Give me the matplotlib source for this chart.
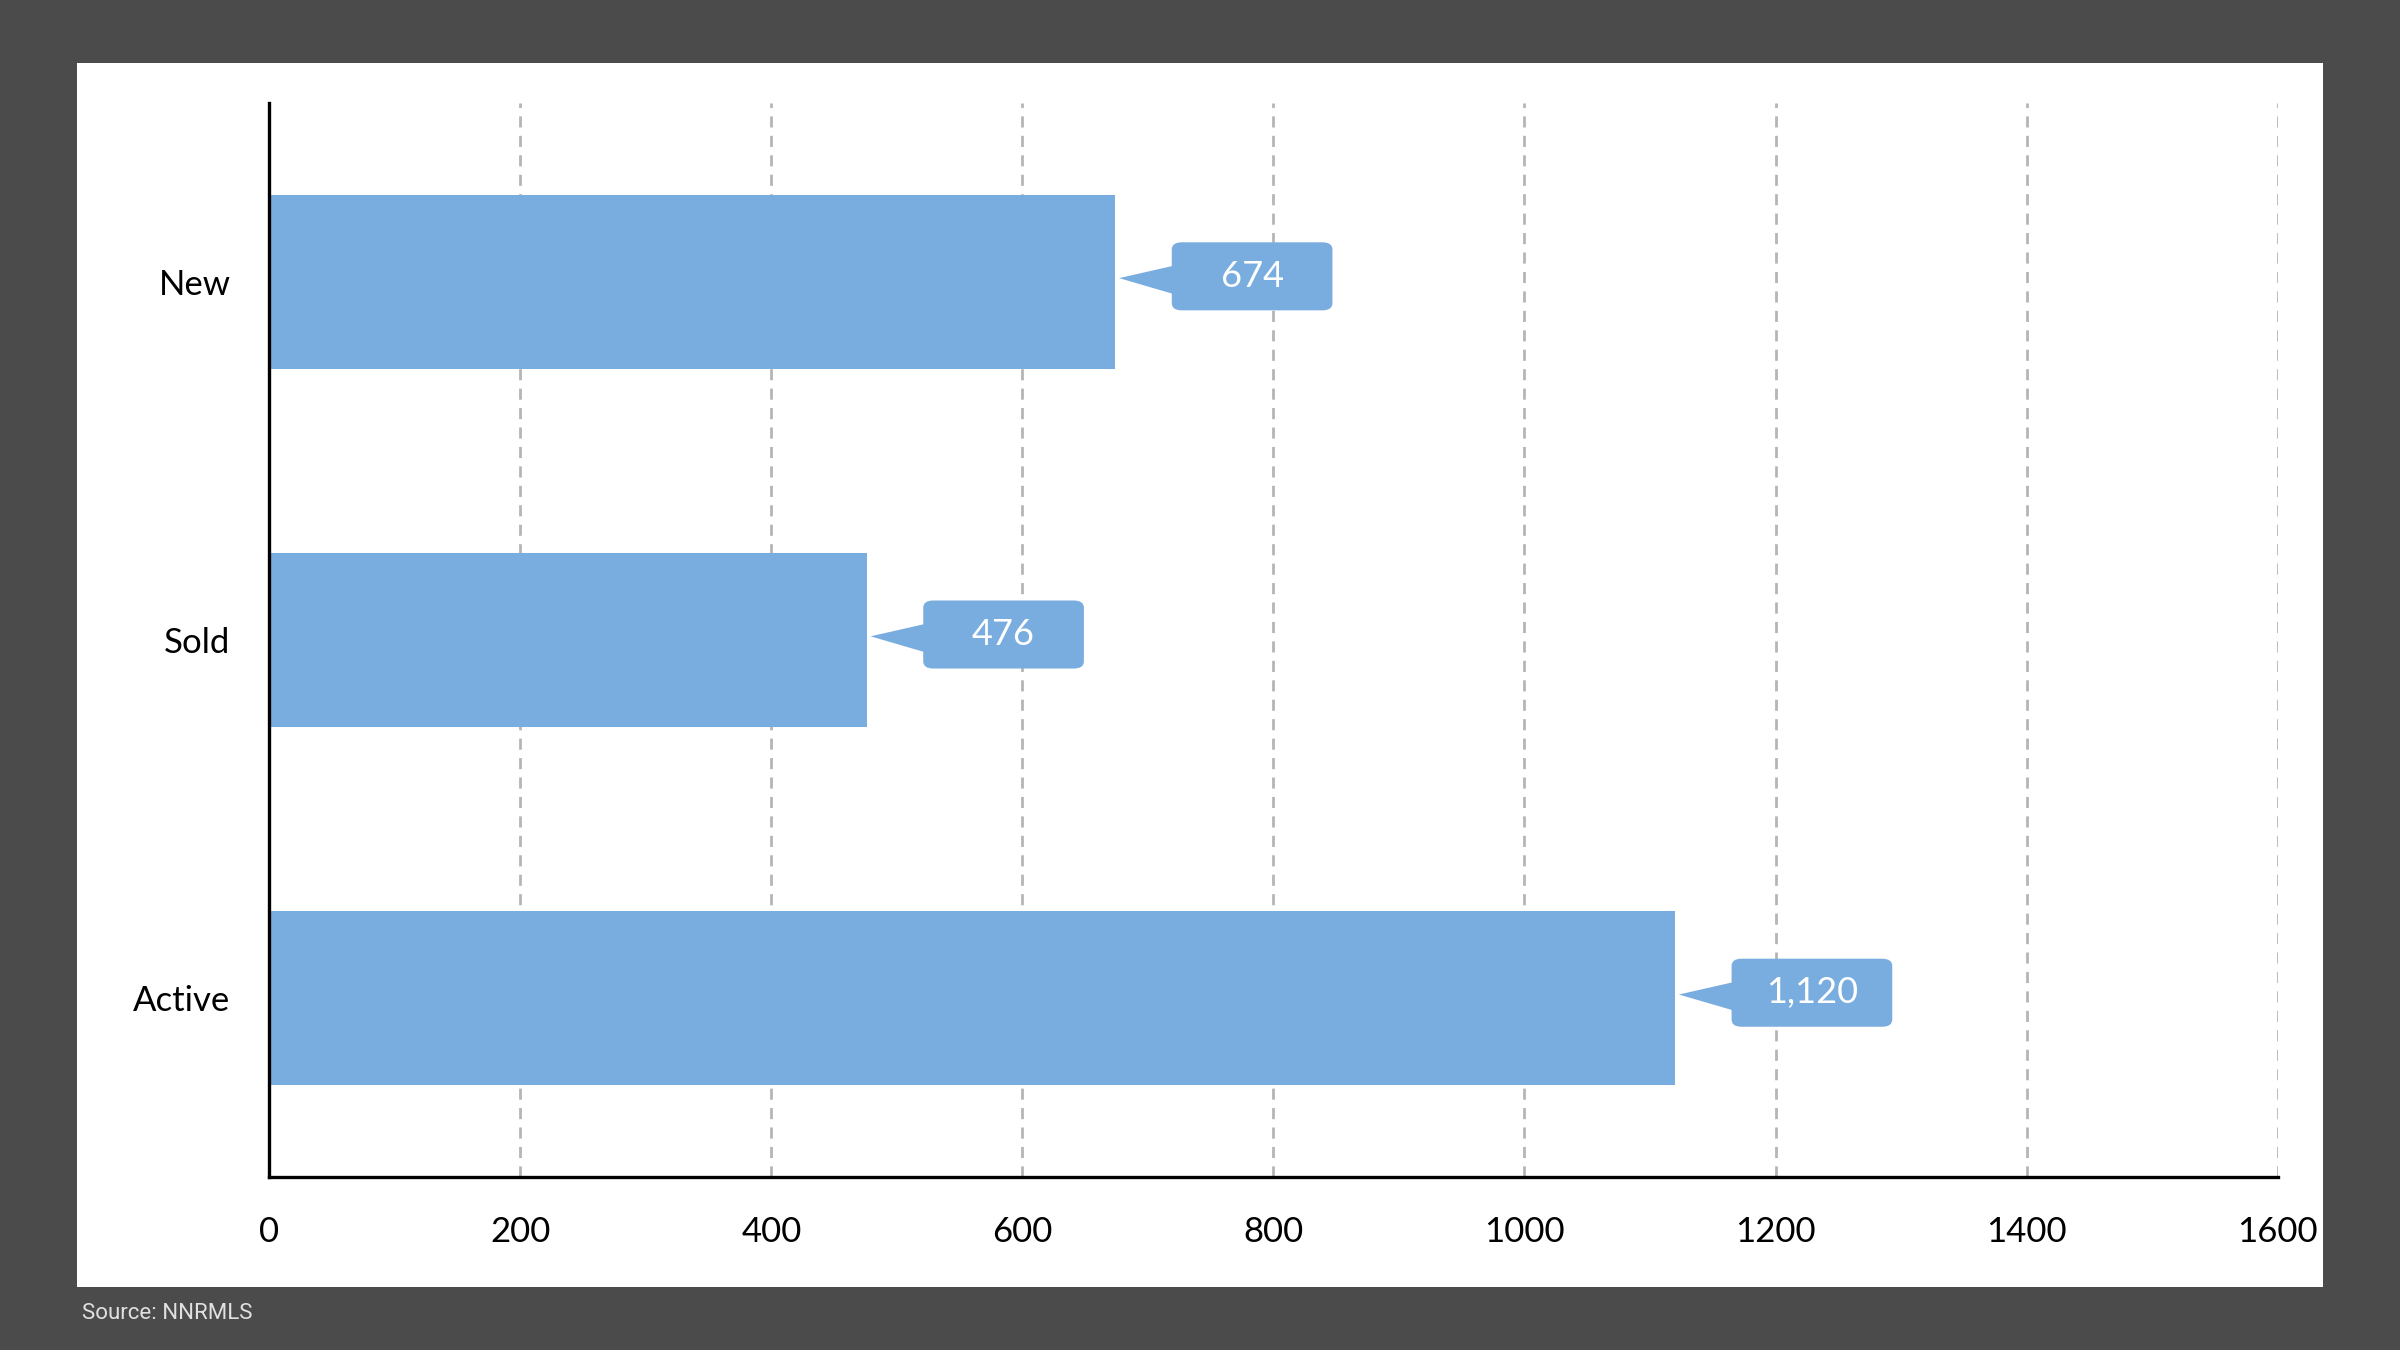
import matplotlib
matplotlib.use("Agg")
import matplotlib.pyplot as plt
from matplotlib.patches import FancyBboxPatch, Polygon, Rectangle

categories = ["New", "Sold", "Active"]
values = [674, 476, 1120]
labels = ["674", "476", "1,120"]
xticks = [0, 200, 400, 600, 800, 1000, 1200, 1400, 1600]

blue = "#7aaddf"
fig = plt.figure(figsize=(12, 6.75), dpi=200)
fig.patch.set_facecolor("#4b4b4b")
fig.patches.append(Rectangle((0.0319, 0.0465), 0.9362, 0.907, transform=fig.transFigure,
                             facecolor="white", edgecolor="none", zorder=-10))
ax = fig.add_axes([0.1122, 0.128, 0.8368, 0.796])
ax.set_zorder(5)
ax.set_facecolor("none")
ypos = [2, 1, 0]
ax.barh(ypos, values, height=0.485, color=blue, zorder=2)
ax.set_xlim(0, 1600)
ax.set_ylim(-0.5, 2.5)
ax.set_xticks(xticks)
ax.set_yticks(ypos)
ax.set_yticklabels(categories)
ax.tick_params(length=0, labelsize=12.5, pad=14)
for t in ax.get_xticklabels() + ax.get_yticklabels():
    t.set_fontfamily("Lato")
ax.grid(axis="x", linestyle=(0, (4, 3)), color="#b5b5b5", linewidth=1)
ax.set_axisbelow(True)
for s in ["top", "right"]:
    ax.spines[s].set_visible(False)
for s in ["left", "bottom"]:
    ax.spines[s].set_linewidth(1.2)

for y, v, lab in zip(ypos, values, labels):
    yc = y + 0.015
    x0, w, h = v + 45, 128, 0.19
    ax.add_patch(FancyBboxPatch((x0, yc - h / 2), w, h,
                                boxstyle="round,pad=0,rounding_size=8", mutation_aspect=0.0025,
                                facecolor=blue, edgecolor="none", zorder=3))
    ax.add_patch(Polygon([(v + 3, yc - 0.005), (x0 + 2, yc - 0.05), (x0 + 2, yc + 0.03)],
                         closed=True, facecolor=blue, edgecolor="none", zorder=3))
    ax.text(x0 + w / 2, yc, lab, ha="center", va="center", color="white",
            fontsize=13, fontfamily="Lato", zorder=4)

fig.text(0.034, 0.027, "Source: NNRMLS", color="#e0e0e0", fontsize=8,
         fontfamily="Roboto", va="center", fontstretch="condensed")
fig.savefig("out.png", dpi=200, facecolor=fig.get_facecolor())
